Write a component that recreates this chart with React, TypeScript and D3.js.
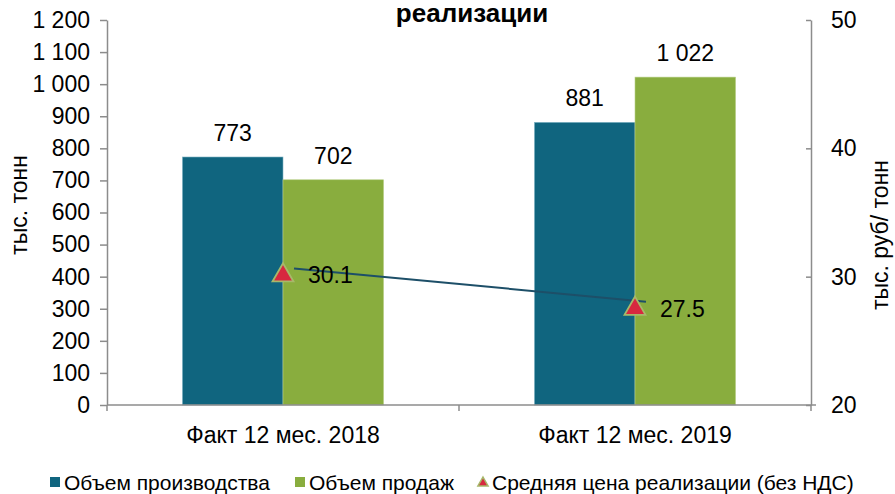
import React, { useEffect, useRef } from 'react';
import * as d3 from 'd3';

const categories = ['Факт 12 мес. 2018', 'Факт 12 мес. 2019'];
const seriesNames = ['Объем производства', 'Объем продаж'];
const production = [773, 881];
const sales = [702, 1022];
const avgPrice = [30.1, 27.5];
const priceLabel = 'Средняя цена реализации (без НДС)';
const leftTicks = [0, 100, 200, 300, 400, 500, 600, 700, 800, 900, 1000, 1100, 1200];
const rightTicks = [20, 30, 40, 50];

const BLUE = '#10657f';
const GREEN = '#89ad3e';
const LINE = '#1d4f68';
const RED = '#d7283f';
const AXIS = '#8c8c8c';
const FONT = 'Liberation Sans, Arial, sans-serif';

export default function App() {
  const svgRef = useRef<SVGSVGElement>(null);

  useEffect(() => {
    if (!svgRef.current) return;
    const width = 895;
    const height = 494;
    const m = { left: 107, right: 811, top: 20, bottom: 405 };

    const svg = d3.select(svgRef.current)
      .attr('width', width)
      .attr('height', height)
      .attr('viewBox', `0 0 ${width} ${height}`)
      .html('');

    svg.append('rect').attr('width', width).attr('height', height).attr('fill', '#fff');

    const x0 = d3.scaleBand<string>().domain(categories).range([m.left, m.right]).padding(0);
    const x1 = d3.scaleBand<string>().domain(seriesNames).range([0, x0.bandwidth()])
      .paddingOuter(0.75).paddingInner(0);
    const yL = d3.scaleLinear().domain([0, 1200]).range([m.bottom, m.top]);
    const yR = d3.scaleLinear().domain([20, 50]).range([m.bottom, m.top]);

    const fmt = (v: number) => d3.format(',')(v).replace(/,/g, ' ');

    // bars
    const rows = categories.map((c, i) => ({ cat: c, vals: [production[i], sales[i]] }));
    const colors = [BLUE, GREEN];
    const g = svg.append('g');
    rows.forEach(r => {
      r.vals.forEach((v, j) => {
        const bx = x0(r.cat)! + x1(seriesNames[j])!;
        g.append('rect')
          .attr('x', bx)
          .attr('y', yL(v))
          .attr('width', x1.bandwidth())
          .attr('height', yL(0) - yL(v))
          .attr('fill', colors[j])
          .attr('stroke', j === 0 ? '#7fb3c4' : '#b9d08a')
          .attr('stroke-width', 0.6);
        g.append('text')
          .attr('x', bx + x1.bandwidth() / 2)
          .attr('y', yL(v) - 16)
          .attr('text-anchor', 'middle')
          .attr('font-family', FONT)
          .attr('font-size', 23)
          .attr('fill', '#000')
          .text(fmt(v));
      });
    });

    // left axis
    const axL = svg.append('g')
      .attr('transform', `translate(${m.left},0)`)
      .call(d3.axisLeft(yL).tickValues(leftTicks).tickFormat(d => fmt(+d)).tickSize(7).tickSizeOuter(0).tickPadding(10));
    // right axis
    const axR = svg.append('g')
      .attr('transform', `translate(${m.right},0)`)
      .call(d3.axisRight(yR).tickValues(rightTicks).tickSizeInner(-5).tickSizeOuter(0).tickPadding(20));
    [axL, axR].forEach(a => {
      a.select('.domain').attr('stroke', AXIS).attr('stroke-width', 1.5);
      a.selectAll('.tick line').attr('stroke', AXIS).attr('stroke-width', 1.5);
      a.selectAll('.tick text').attr('font-family', FONT).attr('font-size', 23).attr('fill', '#000');
    });

    // bottom axis
    const axB = svg.append('g');
    axB.append('line')
      .attr('x1', m.left).attr('x2', m.right + 5)
      .attr('y1', yL(0)).attr('y2', yL(0))
      .attr('stroke', AXIS).attr('stroke-width', 1.5);
    const bounds = categories.map(c => x0(c)!).concat([x0(categories[categories.length - 1])! + x0.bandwidth()]);
    bounds.forEach(b => {
      axB.append('line')
        .attr('x1', b).attr('x2', b)
        .attr('y1', yL(0)).attr('y2', yL(0) + 6)
        .attr('stroke', AXIS).attr('stroke-width', 1.5);
    });
    categories.forEach(c => {
      axB.append('text')
        .attr('x', x0(c)! + x0.bandwidth() / 2)
        .attr('y', yL(0) + 38)
        .attr('text-anchor', 'middle')
        .attr('font-family', FONT)
        .attr('font-size', 23)
        .text(c);
    });

    // price line (slightly offset from markers, as in the source)
    const cx = (c: string) => x0(c)! + x0.bandwidth() / 2;
    const line = d3.line<number>().x((_, i) => cx(categories[i])).y(d => yR(d));
    svg.append('path')
      .attr('d', line(avgPrice))
      .attr('transform', 'translate(11,-7)')
      .attr('fill', 'none')
      .attr('stroke', LINE)
      .attr('stroke-width', 2);

    const tri = d3.symbol().type(d3.symbolTriangle).size(190);
    avgPrice.forEach((v, i) => {
      const px = cx(categories[i]);
      svg.append('path')
        .attr('d', tri())
        .attr('transform', `translate(${px},${yR(v)})`)
        .attr('fill', RED)
        .attr('stroke', '#a7b86a')
        .attr('stroke-width', 1.8);
      svg.append('text')
        .attr('x', px + 25)
        .attr('y', yR(v) + 8)
        .attr('font-family', FONT)
        .attr('font-size', 23)
        .text(d3.format('.1f')(v));
    });

    // axis titles
    svg.append('text')
      .attr('transform', `translate(27,205) rotate(-90)`)
      .attr('text-anchor', 'middle')
      .attr('font-family', FONT)
      .attr('font-size', 23)
      .text('тыс. тонн');
    svg.append('text')
      .attr('transform', `translate(888,235) rotate(-90)`)
      .attr('text-anchor', 'middle')
      .attr('font-family', FONT)
      .attr('font-size', 23)
      .text('тыс. руб/ тонн');

    // title (last line visible)
    svg.append('text')
      .attr('x', 472)
      .attr('y', 22)
      .attr('text-anchor', 'middle')
      .attr('font-family', FONT)
      .attr('font-weight', 'bold')
      .attr('font-size', 26)
      .text('реализации');

    // legend
    const lg = svg.append('g').attr('font-family', FONT).attr('font-size', 21);
    const items = [
      { x: 50, kind: 'rect', color: BLUE, label: seriesNames[0] },
      { x: 295, kind: 'rect', color: GREEN, label: seriesNames[1] },
      { x: 478, kind: 'tri', color: RED, label: priceLabel },
    ];
    items.forEach(it => {
      if (it.kind === 'rect') {
        lg.append('rect').attr('x', it.x).attr('y', 477).attr('width', 10).attr('height', 10).attr('fill', it.color);
      } else {
        lg.append('path')
          .attr('d', d3.symbol().type(d3.symbolTriangle).size(45)())
          .attr('transform', `translate(${it.x + 5},483)`)
          .attr('fill', it.color)
          .attr('stroke', '#a7b86a')
          .attr('stroke-width', 1.5);
      }
      lg.append('text').attr('x', it.x + 14).attr('y', 490).text(it.label);
    });
  }, []);

  return (
    <div style={{ position: 'absolute', left: 0, top: 0 }}>
      <svg ref={svgRef} style={{ display: 'block' }} />
    </div>
  );
}
